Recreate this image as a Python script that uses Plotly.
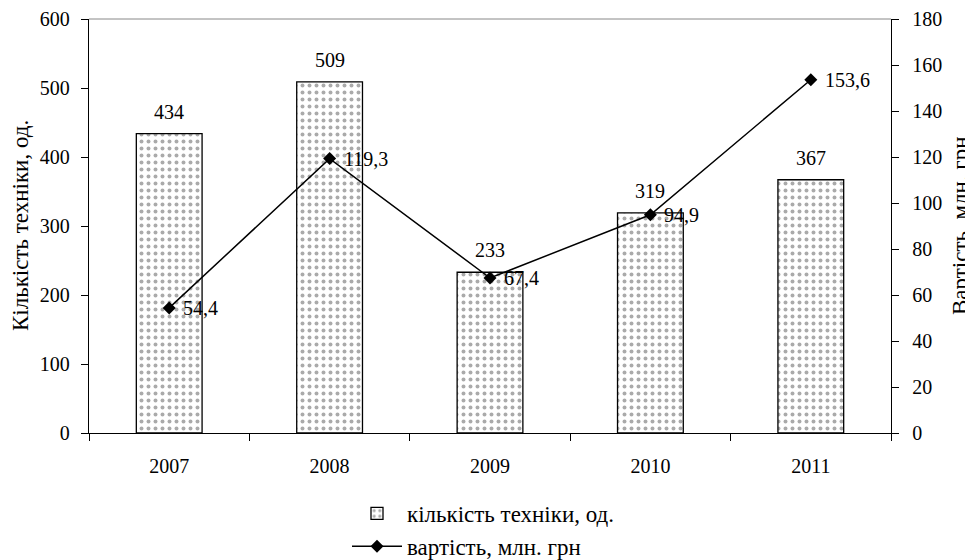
import plotly.graph_objects as go

years = ["2007", "2008", "2009", "2010", "2011"]
quantity = [434, 509, 233, 319, 367]
value = [54.4, 119.3, 67.4, 94.9, 153.6]
value_labels = ["54,4", "119,3", "67,4", "94,9", "153,6"]
qty_name = "кількість техніки, од."
val_name = "вартість, млн. грн"
left_title = "Кількість техніки, од."
right_title = "Вартість, млн. грн"

FAM = "Liberation Serif"
TICK = dict(family=FAM, size=20, color="black")
BIG = dict(family=FAM, size=23, color="black")

# page body has an 8px margin, so the figure is sized for the visible area
W, H = 965, 552

xpos = list(range(len(years)))
bounds = [i - 0.5 for i in range(len(years) + 1)]

fig = go.Figure()
fig.add_trace(go.Bar(
    x=xpos, y=quantity, name=qty_name,
    marker=dict(color="white", line=dict(color="black", width=1.3),
                pattern=dict(shape=".", fgcolor="#555555", bgcolor="white", size=7, solidity=0.25)),
    width=0.41,
))
fig.add_trace(go.Scatter(
    x=xpos, y=value, name=val_name, yaxis="y2", mode="lines+markers",
    line=dict(color="black", width=1.5),
    marker=dict(symbol="diamond", size=10, color="black"),
))

annots = []
for i, q in enumerate(quantity):
    annots.append(dict(x=xpos[i], y=q, xref="x", yref="y", text=str(q), showarrow=False,
                       yanchor="bottom", yshift=9, font=TICK))
for i, (v, t) in enumerate(zip(value, value_labels)):
    annots.append(dict(x=xpos[i], y=v, xref="x", yref="y2", text=t, showarrow=False,
                       xanchor="left", xshift=12, font=TICK))
annots.append(dict(x=0, y=0.5, xref="paper", yref="paper", text=left_title, textangle=-90,
                   showarrow=False, xanchor="center", yanchor="middle", xshift=-69, font=BIG))
annots.append(dict(x=1, y=0.5, xref="paper", yref="paper", text=right_title, textangle=-90,
                   showarrow=False, xanchor="center", yanchor="middle", xshift=69, font=BIG))

fig.update_layout(
    annotations=annots,
    width=W, height=H,
    margin=dict(l=81, r=82, t=11, b=127, autoexpand=False),
    plot_bgcolor="white", paper_bgcolor="white",
    font=TICK,
    showlegend=True,
    legend=dict(orientation="v", xref="container", yref="container",
                x=339 / W, xanchor="left", y=1 - 484 / H, yanchor="top",
                font=BIG, tracegroupgap=0, itemwidth=50),
    xaxis=dict(range=[bounds[0], bounds[-1]], tickmode="array", tickvals=xpos, ticktext=years,
               showline=True, linecolor="black", linewidth=1.3, automargin=False,
               ticks="outside", ticklen=0, ticklabelstandoff=15,
               showgrid=False, zeroline=False, tickfont=TICK,
               minor=dict(tickmode="array", tickvals=bounds, ticks="outside", ticklen=7,
                          tickcolor="black", showgrid=False)),
    yaxis=dict(range=[0, 600], dtick=100, showline=True, linecolor="black", linewidth=1.3,
               ticks="outside", ticklen=7, tickcolor="black", showgrid=False, zeroline=False,
               automargin=False, ticklabelstandoff=7, tickfont=TICK),
    yaxis2=dict(range=[0, 180], dtick=20, overlaying="y", side="right", showline=True,
                linecolor="black", linewidth=1.3, ticks="outside", ticklen=7, tickcolor="black",
                showgrid=False, zeroline=False, automargin=False, ticklabelstandoff=9,
                tickfont=TICK),
)
fig.add_shape(type="line", xref="paper", yref="paper", x0=0, x1=1, y0=1, y1=1,
              line=dict(color="#888888", width=1))

fig.write_html("out.html")
